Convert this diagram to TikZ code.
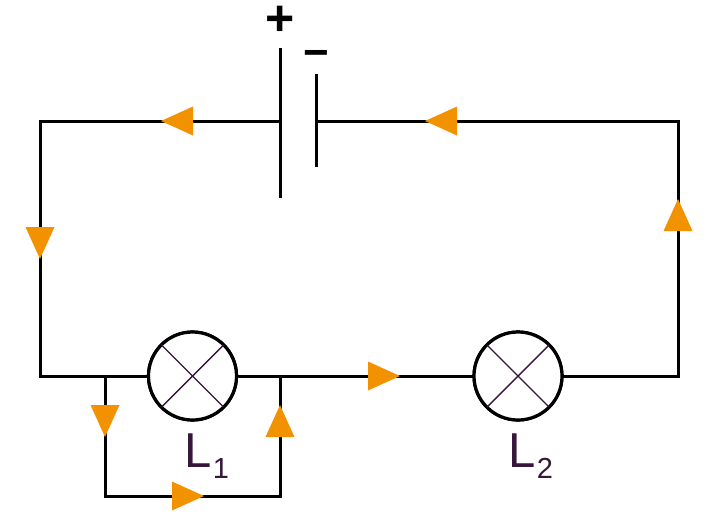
\documentclass[tikz,border=0pt]{standalone}
\usepackage{fontspec}
\setmainfont{Liberation Sans}
\usetikzlibrary{shapes.geometric}
\definecolor{flowcol}{HTML}{F39200}
\definecolor{lampcol}{HTML}{36163A}
\newcommand{\lampsub}[1]{\kern1.5pt\raisebox{-11pt}{\fontsize{29}{29}\selectfont #1}}
\tikzset{
    wire/.style={line width=3pt},
    lamp/.style={circle,draw,line width=3.2pt,minimum size=88pt,inner sep=0pt,outer sep=0pt},
    flow/.style={isosceles triangle,isosceles triangle stretches,fill=flowcol,inner sep=0pt,outer sep=0pt,
        minimum width=29pt,minimum height=32pt,anchor=apex},
    lampname/.style={text=lampcol,font=\fontsize{49}{49}\selectfont,inner sep=0pt,anchor=base west},
    sign/.style={font=\fontsize{50}{50}\selectfont\bfseries,inner sep=0pt,anchor=base}
}
\begin{document}
\begin{tikzpicture}[x=1pt,y=-1pt]
    \useasboundingbox (0,0) rectangle (722,523);
    \node[lamp] (lampa) at (192.5,376) {};
    \node[lamp] (lampb) at (518,376) {};
    \coordinate (topleft) at (40,121);
    \coordinate (topright) at (678,121);
    \coordinate (botleft) at (40,376);
    \coordinate (botright) at (678,376);
    \coordinate (pos) at (280,121);
    \coordinate (neg) at (316,121);
    \coordinate (postop) at (280,48);
    \coordinate (posbot) at (280,198);
    \coordinate (negtop) at (316,74);
    \coordinate (negbot) at (316,167);
    \coordinate (splita) at (105,376);
    \coordinate (splitb) at (280,376);
    \coordinate (loopa) at (105,496);
    \coordinate (loopb) at (280,496);
    % circuit
    \draw[wire] (pos) -- (topleft) -- (botleft) -- (lampa);
    \draw[wire] (neg) -- (topright) -- (botright) -- (lampb);
    \draw[wire] (lampa) -- (lampb);
    \draw[wire] (splita) -- (loopa) -- (loopb) -- (splitb);
    \draw[wire] (postop) -- (posbot);
    \draw[wire] (negtop) -- (negbot);
    % redraw lamps over the wires
    \node[lamp,fill=white] at (lampa) {};
    \node[lamp,fill=white] at (lampb) {};
    \foreach \lname in {lampa,lampb} {
        \draw[lampcol,line width=1.4pt] (\lname.135) -- (\lname.315);
        \draw[lampcol,line width=1.4pt] (\lname.45) -- (\lname.225);
    }
    % current arrows
    \node[flow,rotate=180] (fa) at (161,121) {};
    \node[flow,rotate=180] (fb) at (425,121) {};
    \node[flow,rotate=270] (fc) at (40,259) {};
    \node[flow,rotate=90] (fd) at (678,199) {};
    \node[flow] (fe) at (400,376) {};
    \node[flow,rotate=270] (ff) at (105,437) {};
    \node[flow,rotate=90] (fg) at (280,405) {};
    \node[flow] (fh) at (204,496) {};
    % labels
    \node[sign] (plus) at (280,35.5) {+};
    \node[sign,font=\fontsize{44}{44}\selectfont\bfseries] (minus) at (316,67.5) {−};
    \node[lampname] (namea) at (184,467) {L\lampsub{1}};
    \node[lampname] (nameb) at (508,467) {L\lampsub{2}};
\end{tikzpicture}
\end{document}
